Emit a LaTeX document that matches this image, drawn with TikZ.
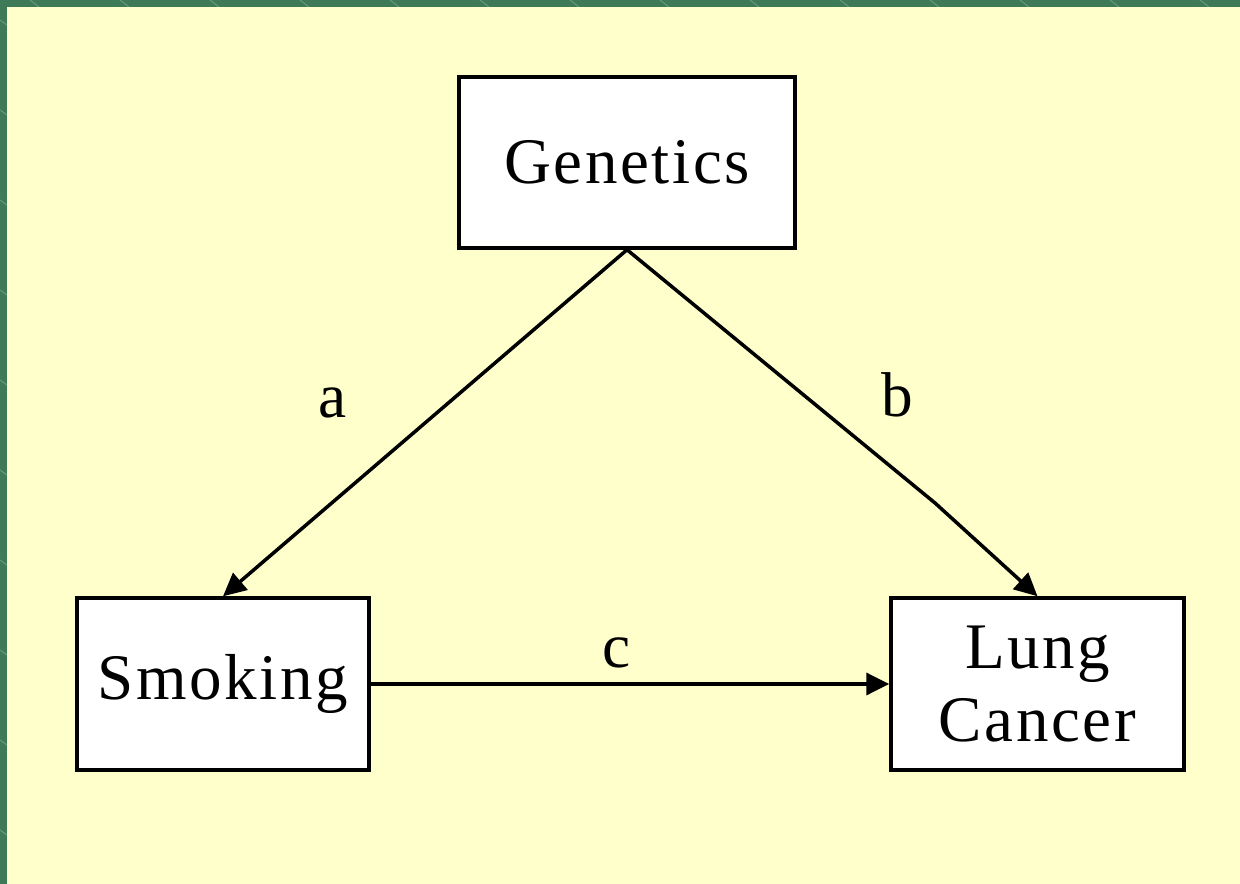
\documentclass[tikz,border=0pt]{standalone}
\usepackage{fontspec}
\setmainfont{Liberation Serif}
\newfontfamily\boxfont[LetterSpace=4]{Liberation Serif}
\usetikzlibrary{arrows.meta}
\definecolor{frame}{HTML}{3E7A57}
\definecolor{paper}{HTML}{FFFFCC}
\tikzset{
  varbox/.style={draw,line width=2pt,fill=white,align=center,inner sep=0pt,
    font=\boxfont\fontsize{37}{42}\selectfont},
  link/.style={line width=2pt,-{Triangle[length=0.46cm,width=0.44cm]}},
  lab/.style={font=\fontsize{36}{42}\selectfont}
}
\begin{document}
\begin{tikzpicture}[x=0.02cm,y=-0.02cm]
\useasboundingbox (0,0) rectangle (1240,884);
\fill[frame] (0,0) rectangle (1240,884);
\fill[paper] (7,7) rectangle (1240,884);
\foreach \x in {30,120,210,300,390,480,570,660,750,840,930,1020,1110,1200}{
  \draw[white,opacity=0.25,line width=0.5pt] (\x,0)--++(9,7);
}
\foreach \y in {20,110,200,290,380,470,560,650,740,830}{
  \draw[white,opacity=0.25,line width=0.5pt] (0,\y)--++(7,5);
}
% boxes
\node[varbox,minimum width=6.72cm,minimum height=3.42cm] (gen) at (627,162.5) {Genetics};
\node[varbox,minimum width=5.84cm,minimum height=3.44cm] (smk) at (223,684) {Smoking};
\node[varbox,minimum width=5.86cm,minimum height=3.44cm] (lc) at (1037.5,684) {Lung\\Cancer};
\coordinate (bend) at (935,503);
% arrows
\draw[link] (gen.south) -- (smk.north);
\draw[link] (gen.south) -- (bend) -- (lc.north);
\draw[link] (smk.east) -- (lc.west);
\node[lab] (a) at (333,403) {a};
\node[lab] (b) at (897,395) {b};
\node[lab] (c) at (617,653) {c};
\end{tikzpicture}
\end{document}
